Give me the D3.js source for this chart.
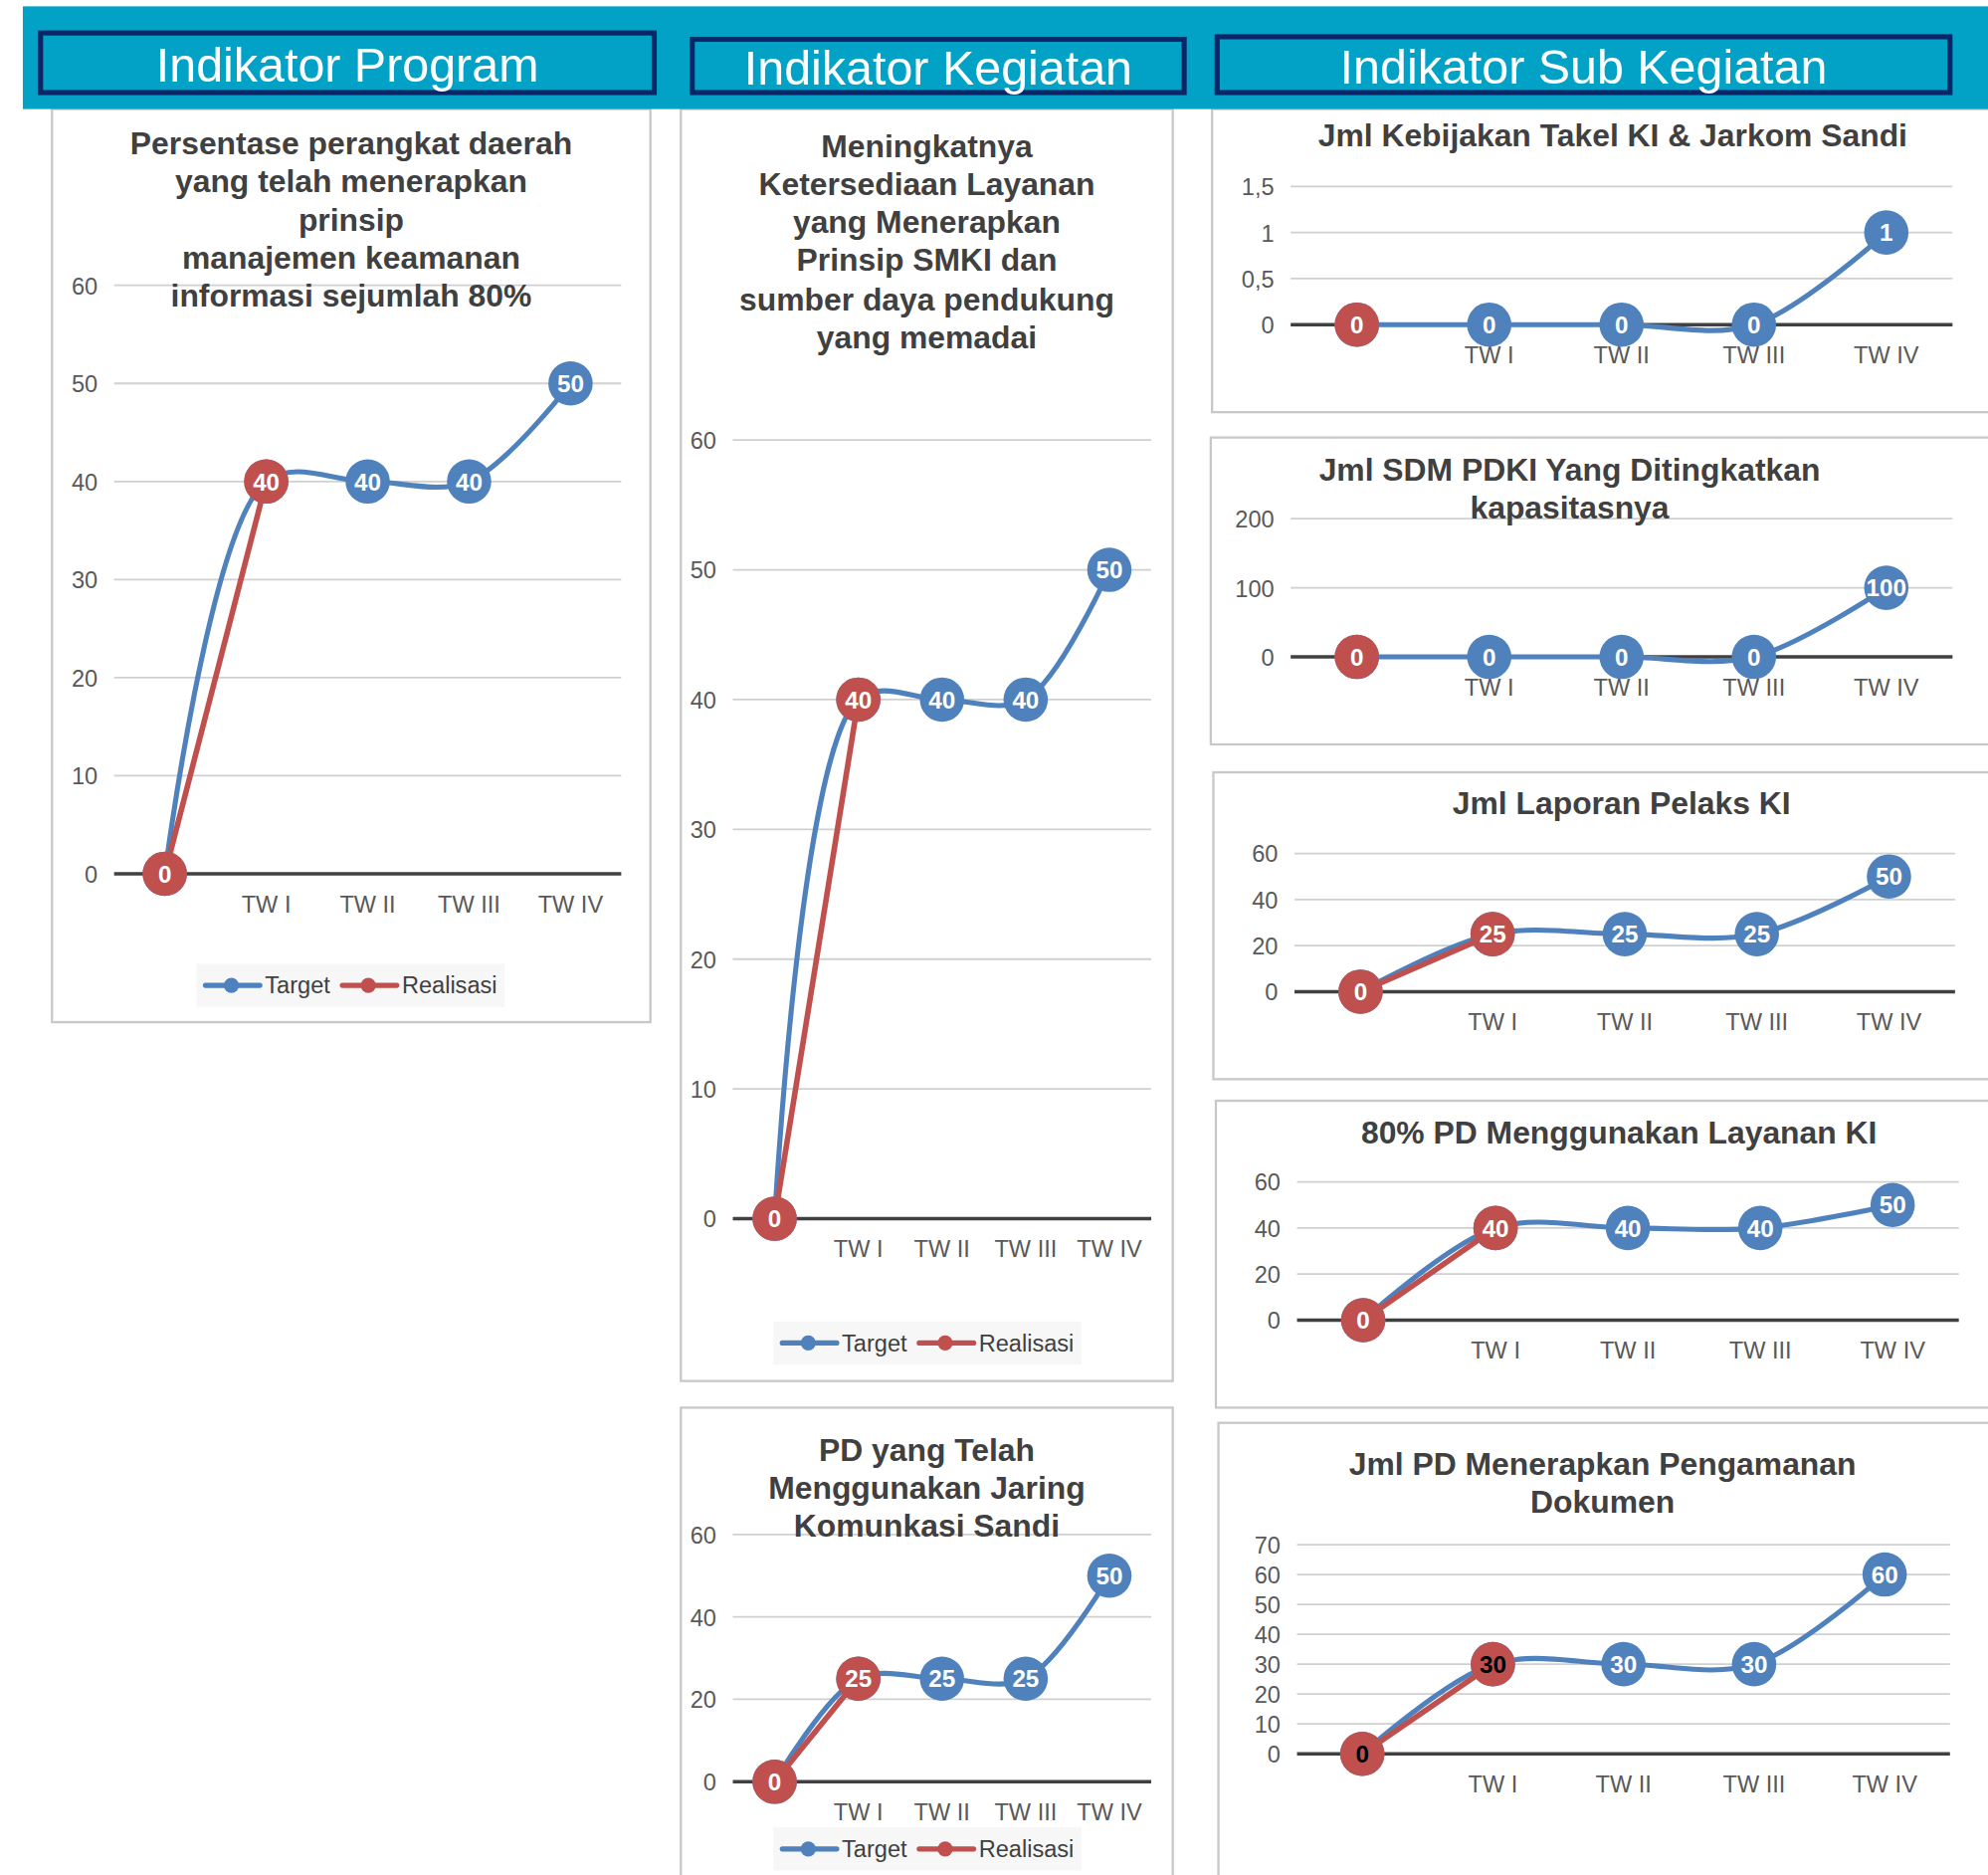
<!DOCTYPE html>
<html><head><meta charset="utf-8">
<script src="https://cdn.jsdelivr.net/npm/d3@7"></script>
<style>html,body{margin:0;padding:0;background:#fff;} svg{display:block}</style>
</head><body><svg id="c" width="1998" height="1884"></svg>
<script>
// ---------- DATA ----------
const categories = ["", "TW I", "TW II", "TW III", "TW IV"];
const seriesNames = ["Target", "Realisasi"];
const headerLabels = ["Indikator Program", "Indikator Kegiatan", "Indikator Sub Kegiatan"];

const programTitle = ["Persentase perangkat daerah", "yang telah menerapkan", "prinsip", "manajemen keamanan", "informasi sejumlah 80%"];
const programTarget = [0, 40, 40, 40, 50];
const programReal = [0, 40];
const programTicks = [0, 10, 20, 30, 40, 50, 60];

const keg1Title = ["Meningkatnya", "Ketersediaan Layanan", "yang Menerapkan", "Prinsip SMKI dan", "sumber daya pendukung", "yang memadai"];
const keg1Target = [0, 40, 40, 40, 50];
const keg1Real = [0, 40];
const keg1Ticks = [0, 10, 20, 30, 40, 50, 60];

const keg2Title = ["PD yang Telah", "Menggunakan Jaring", "Komunkasi Sandi"];
const keg2Target = [0, 25, 25, 25, 50];
const keg2Real = [0, 25];
const keg2Ticks = [0, 20, 40, 60];

const sub1Title = ["Jml Kebijakan Takel KI & Jarkom Sandi"];
const sub1Target = [0, 0, 0, 0, 1];
const sub1Real = [0];
const sub1Ticks = [0, 0.5, 1, 1.5];

const sub2Title = ["Jml SDM PDKI Yang Ditingkatkan", "kapasitasnya"];
const sub2Target = [0, 0, 0, 0, 100];
const sub2Real = [0];
const sub2Ticks = [0, 100, 200];

const sub3Title = ["Jml Laporan Pelaks KI"];
const sub3Target = [0, 25, 25, 25, 50];
const sub3Real = [0, 25];
const sub3Ticks = [0, 20, 40, 60];

const sub4Title = ["80% PD Menggunakan Layanan KI"];
const sub4Target = [0, 40, 40, 40, 50];
const sub4Real = [0, 40];
const sub4Ticks = [0, 20, 40, 60];

const sub5Title = ["Jml PD Menerapkan Pengamanan", "Dokumen"];
const sub5Target = [0, 30, 30, 30, 60];
const sub5Real = [0, 30];
const sub5Ticks = [0, 10, 20, 30, 40, 50, 60, 70];

// ---------- LAYOUT (design units, scaled to the page) ----------
const K = 1998 / 1568;
const BLUE = "#4f81bd", RED = "#c0504d";
const FONT = "'Liberation Sans', Arial, Helvetica, sans-serif";

const charts = [
  {title: programTitle, target: programTarget, real: programReal, ticks: programTicks,
   box: [41, 86, 513, 806], tcx: 277, tys: [113,143,173,203,233],
   gx: [90, 490], gy: [689, 225], legend: {x: 155, y: 777}},
  {title: keg1Title, target: keg1Target, real: keg1Real, ticks: keg1Ticks,
   box: [537, 86, 925, 1089], tcx: 731, tys: [115,145,175,205,236,266],
   gx: [578, 908], gy: [961, 347], legend: {x: 610, y: 1059}},
  {title: keg2Title, target: keg2Target, real: keg2Real, ticks: keg2Ticks,
   box: [537, 1110, 925, 1520], tcx: 731, tys: [1143,1173,1203],
   gx: [578, 908], gy: [1405, 1210], legend: {x: 610, y: 1458}},
  {title: sub1Title, target: sub1Target, real: sub1Real, ticks: sub1Ticks,
   box: [956, 86, 1600, 325], tcx: 1272, tys: [107],
   gx: [1018, 1540], gy: [256, 147]},
  {title: sub2Title, target: sub2Target, real: sub2Real, ticks: sub2Ticks,
   box: [955, 345, 1600, 587], tcx: 1238, tys: [370, 400],
   gx: [1018, 1540], gy: [518, 409]},
  {title: sub3Title, target: sub3Target, real: sub3Real, ticks: sub3Ticks,
   box: [957, 609, 1600, 851], tcx: 1279, tys: [633],
   gx: [1021, 1542], gy: [782, 673]},
  {title: sub4Title, target: sub4Target, real: sub4Real, ticks: sub4Ticks,
   box: [959, 868, 1600, 1110], tcx: 1277, tys: [893],
   gx: [1023, 1545], gy: [1041, 932]},
  {title: sub5Title, target: sub5Target, real: sub5Real, ticks: sub5Ticks,
   box: [961, 1122, 1600, 1520], tcx: 1264, tys: [1154, 1184],
   gx: [1023, 1538], gy: [1383, 1218], realLabelColor: "#000"}
];

const headers = [
  {box: [30, 24, 518, 75]},
  {box: [544, 29, 936, 75]},
  {box: [958, 27, 1540, 75]}
];

const fmt = d3.formatLocale({decimal: ",", thousands: ".", grouping: [3], currency: ["", ""]}).format("~g");

const svg = d3.select("#c");
svg.append("rect").attr("width", 1998).attr("height", 1884).attr("fill", "#fff");
const root = svg.append("g").attr("transform", `scale(${K})`);

// ---------- CHARTS ----------
charts.forEach(c => {
  const g = root.append("g");
  const [bx0, by0, bx1, by1] = c.box;
  g.append("rect").attr("x", bx0).attr("y", by0).attr("width", bx1 - bx0).attr("height", by1 - by0)
    .attr("fill", "#fff").attr("stroke", "#c8c8c8").attr("stroke-width", 1.8);

  const x = d3.scaleBand().domain(categories).range(c.gx);
  const cx = d => x(d) + x.bandwidth() / 2;
  const y = d3.scaleLinear().domain([0, d3.max(c.ticks)]).range(c.gy);

  // gridlines
  g.selectAll(".grid").data(c.ticks.filter(t => t !== 0)).enter().append("line")
    .attr("x1", c.gx[0]).attr("x2", c.gx[1]).attr("y1", d => y(d)).attr("y2", d => y(d))
    .attr("stroke", "#d0d0d0").attr("stroke-width", 1.4);

  // y axis labels
  const yAxis = d3.axisLeft(y).tickValues(c.ticks).tickFormat(fmt).tickSize(0).tickPadding(13);
  const ya = g.append("g").attr("transform", `translate(${c.gx[0]},0)`).call(yAxis);
  ya.select(".domain").remove();
  ya.selectAll("text").attr("font-family", FONT).attr("font-size", 18.5).attr("fill", "#595959").attr("dy", "0.35em");

  // zero line
  g.append("line").attr("x1", c.gx[0]).attr("x2", c.gx[1]).attr("y1", y(0)).attr("y2", y(0))
    .attr("stroke", "#404040").attr("stroke-width", 2.8);

  // x labels
  const xAxis = d3.axisBottom(x).tickSize(0).tickPadding(0);
  const xa = g.append("g").attr("transform", `translate(0,${y(0)})`).call(xAxis);
  xa.select(".domain").remove();
  xa.selectAll("text").attr("font-family", FONT).attr("font-size", 18.5).attr("fill", "#595959")
    .attr("y", 24).attr("dy", "0.35em");

  // title
  g.selectAll(".title").data(c.title).enter().append("text")
    .attr("x", c.tcx).attr("y", (d, i) => c.tys[i]).attr("dy", "0.35em")
    .attr("text-anchor", "middle").attr("font-family", FONT).attr("font-weight", "bold")
    .attr("font-size", 25).attr("fill", "#404040").text(d => d);

  // lines
  const line = d3.line().x((d, i) => cx(categories[i])).y(d => y(d)).curve(d3.curveCatmullRom.alpha(0.5));
  g.append("path").datum(c.target).attr("d", line).attr("fill", "none")
    .attr("stroke", BLUE).attr("stroke-width", 4).attr("stroke-linecap", "round");
  if (c.real.length > 1) {
    g.append("path").datum(c.real).attr("d", line).attr("fill", "none")
      .attr("stroke", RED).attr("stroke-width", 4.4).attr("stroke-linecap", "round");
  }

  // markers
  const drawMarkers = (vals, color, labelColor) => {
    const mg = g.append("g");
    const m = mg.selectAll("g").data(vals).enter().append("g")
      .attr("transform", (d, i) => `translate(${cx(categories[i])},${y(d)})`);
    m.append("circle").attr("r", 17.5).attr("fill", color);
    m.append("text").attr("text-anchor", "middle").attr("dy", "0.36em")
      .attr("font-family", FONT).attr("font-weight", "bold").attr("font-size", 19)
      .attr("fill", labelColor).text(d => fmt(d));
  };
  drawMarkers(c.target, BLUE, "#fff");
  drawMarkers(c.real, RED, c.realLabelColor || "#fff");

  // legend
  if (c.legend) {
    const L = c.legend;
    const lg = g.append("g");
    lg.append("rect").attr("x", L.x).attr("y", L.y - 17).attr("width", 243).attr("height", 34).attr("fill", "#f7f7f7");
    const items = [{name: seriesNames[0], color: BLUE, off: 0}, {name: seriesNames[1], color: RED, off: 108}];
    items.forEach(it => {
      const ox = L.x + 5 + it.off;
      lg.append("line").attr("x1", ox + 2).attr("x2", ox + 45).attr("y1", L.y).attr("y2", L.y)
        .attr("stroke", it.color).attr("stroke-width", 4).attr("stroke-linecap", "round");
      lg.append("circle").attr("cx", ox + 22.5).attr("cy", L.y).attr("r", 6).attr("fill", it.color);
      lg.append("text").attr("x", ox + 49).attr("y", L.y).attr("dy", "0.35em")
        .attr("font-family", FONT).attr("font-size", 18.5).attr("fill", "#404040").text(it.name);
    });
  }
});

// ---------- HEADER ----------
const hg = root.append("g");
hg.append("rect").attr("x", 18).attr("y", 5).attr("width", 1600).attr("height", 81).attr("fill", "#02a2c7");
headers.forEach((h, i) => {
  const [x0, y0, x1, y1] = h.box;
  hg.append("rect").attr("x", x0 + 2).attr("y", y0 + 2).attr("width", x1 - x0 - 4).attr("height", y1 - y0 - 4)
    .attr("fill", "#02a2c7").attr("stroke", "#0b2566").attr("stroke-width", 4);
  hg.append("text").attr("x", (x0 + x1) / 2).attr("y", (y0 + y1) / 2 + 1).attr("dy", "0.36em")
    .attr("text-anchor", "middle").attr("font-family", FONT).attr("font-size", 38)
    .attr("fill", "#fff").text(headerLabels[i]);
});
</script></body></html>
